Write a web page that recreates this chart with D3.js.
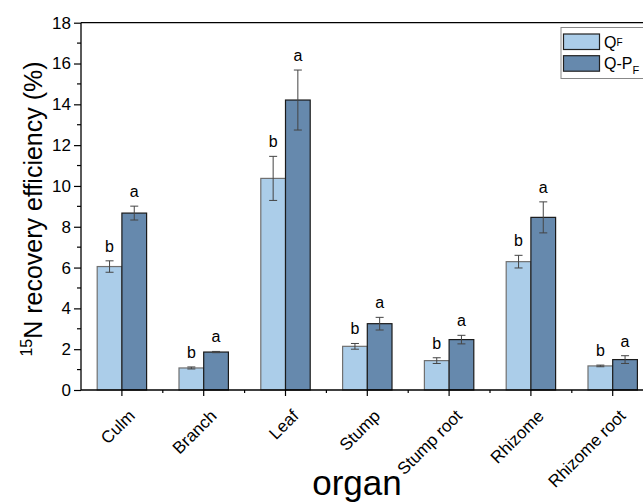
<!DOCTYPE html>
<html>
<head>
<meta charset="utf-8">
<script src="https://cdn.jsdelivr.net/npm/d3@7/dist/d3.min.js"></script>
<style>
  html, body { margin: 0; padding: 0; background: #fff; }
  svg { display: block; font-family: Arial, "Liberation Sans", sans-serif; }
</style>
</head>
<body>
<svg id="chart" width="643" height="502"></svg>
<script>
// Organs sampled
const categories = ["Culm", "Branch", "Leaf", "Stump", "Stump root", "Rhizome", "Rhizome root"];
// 15N recovery efficiency (%) per treatment, with error bars
const qfValues = [6.05, 1.08, 10.37, 2.14, 1.44, 6.29, 1.18];
const qfErrors = [0.28, 0.05, 1.08, 0.14, 0.14, 0.31, 0.04];
const qpfValues = [8.67, 1.86, 14.21, 3.25, 2.47, 8.46, 1.49];
const qpfErrors = [0.34, 0.03, 1.47, 0.31, 0.21, 0.76, 0.19];
// Significance letters
const qfLetters = ["b", "b", "b", "b", "b", "b", "b"];
const qpfLetters = ["a", "a", "a", "a", "a", "a", "a"];
const yTicks = [0, 2, 4, 6, 8, 10, 12, 14, 16, 18];
const seriesKeys = ["QF", "QPF"];

const series = [
  { key: "QF", values: qfValues, errors: qfErrors, letters: qfLetters, fill: "#abcde9", stroke: "#707070" },
  { key: "QPF", values: qpfValues, errors: qpfErrors, letters: qpfLetters, fill: "#6689ad", stroke: "#1a1a1a" }
];

const svg = d3.select("#chart");
const plotLeft = 81, plotTop = 22.7, plotBottom = 390, plotRight = 653.6;

const x = d3.scaleBand().domain(categories).range([plotLeft, plotRight]).paddingInner(0).paddingOuter(0);
const y = d3.scaleLinear().domain([0, 18]).range([plotBottom, plotTop]);
const barW = x.bandwidth() * 0.302;
const sub = d3.scaleBand().domain(seriesKeys).range([-barW, barW]);

// Bars, error bars and letters
series.forEach(s => {
  const g = svg.append("g");
  categories.forEach((c, i) => {
    const cx = x(c) + x.bandwidth() / 2;
    const bx = cx + sub(s.key);
    const v = s.values[i], e = s.errors[i];
    g.append("rect")
      .attr("x", bx).attr("y", y(v))
      .attr("width", sub.bandwidth()).attr("height", y(0) - y(v))
      .attr("fill", s.fill).attr("stroke", s.stroke).attr("stroke-width", 1.2);
    const mx = bx + sub.bandwidth() / 2;
    const eg = g.append("g").attr("stroke", "#444").attr("stroke-width", 1);
    eg.append("line").attr("x1", mx).attr("x2", mx).attr("y1", y(v + e)).attr("y2", y(v - e));
    eg.append("line").attr("x1", mx - 4).attr("x2", mx + 4).attr("y1", y(v + e)).attr("y2", y(v + e));
    eg.append("line").attr("x1", mx - 4).attr("x2", mx + 4).attr("y1", y(v - e)).attr("y2", y(v - e));
    g.append("text")
      .attr("x", mx).attr("y", y(v + e) - 9)
      .attr("text-anchor", "middle").attr("font-size", 16).attr("fill", "#000")
      .text(s.letters[i]);
  });
});

// Y axis with minor ticks
const yAxis = d3.axisLeft(y).tickValues(yTicks).tickSize(7).tickPadding(3).tickFormat(d3.format("d"));
const ya = svg.append("g").attr("transform", `translate(${plotLeft},0)`).call(yAxis);
ya.select(".domain").attr("stroke", "#000").attr("stroke-width", 1.3).attr("d", `M0,${plotBottom}V${plotTop}`);
ya.selectAll(".tick line").attr("stroke", "#000").attr("stroke-width", 1.2);
ya.selectAll(".tick text").attr("font-size", 17).attr("fill", "#000").attr("font-family", "Arial, 'Liberation Sans', sans-serif");
const yMinor = d3.range(1, 18, 2);
svg.append("g").selectAll("line").data(yMinor).join("line")
  .attr("x1", plotLeft - 4).attr("x2", plotLeft).attr("y1", d => y(d)).attr("y2", d => y(d))
  .attr("stroke", "#000").attr("stroke-width", 1.2);

// Top frame line
svg.append("line").attr("x1", plotLeft).attr("x2", 643).attr("y1", plotTop).attr("y2", plotTop)
  .attr("stroke", "#000").attr("stroke-width", 1.3);

// X axis
const xAxis = d3.axisBottom(x).tickSize(6).tickFormat("");
const xa = svg.append("g").attr("transform", `translate(0,${plotBottom})`).call(xAxis);
xa.select(".domain").attr("stroke", "#000").attr("stroke-width", 1.3).attr("d", `M${plotLeft},0H${plotRight}`);
xa.selectAll(".tick line").attr("stroke", "#000").attr("stroke-width", 1.2);
svg.append("g").selectAll("line").data(categories.slice(1)).join("line")
  .attr("x1", d => x(d)).attr("x2", d => x(d)).attr("y1", plotBottom).attr("y2", plotBottom + 3)
  .attr("stroke", "#000").attr("stroke-width", 1.2);

// Rotated category labels
svg.append("g").selectAll("text").data(categories).join("text")
  .attr("transform", d => `translate(${x(d) + x.bandwidth() / 2 + 14},${plotBottom + 27}) rotate(-45)`)
  .attr("text-anchor", "end").attr("font-size", 17).attr("fill", "#000")
  .text(d => d);

// Axis titles
svg.append("text").attr("x", 357).attr("y", 495).attr("text-anchor", "middle")
  .attr("font-size", 35).attr("fill", "#000").text("organ");

const yt = svg.append("text").attr("transform", `translate(42,209) rotate(-90)`)
  .attr("text-anchor", "middle").attr("font-size", 25).attr("fill", "#000");
yt.append("tspan").attr("font-size", 16).attr("dy", -10).text("15");
yt.append("tspan").attr("dy", 10).text("N recovery efficiency (%)");

// Legend
const lg = svg.append("g");
lg.append("rect").attr("x", 561).attr("y", 27.5).attr("width", 100).attr("height", 51)
  .attr("fill", "#fff").attr("stroke", "#888").attr("stroke-width", 1);
const legendRows = [
  { s: series[0], y: 34, label: t => { t.append("tspan").text("Q"); t.append("tspan").attr("font-size", 10).attr("dy", -2).text("F"); } },
  { s: series[1], y: 55.7, label: t => { t.append("tspan").text("Q-P"); t.append("tspan").attr("font-size", 11).attr("dy", 5).text("F"); } }
];
legendRows.forEach(r => {
  lg.append("rect").attr("x", 563.5).attr("y", r.y).attr("width", 36).attr("height", 15.5)
    .attr("fill", r.s.fill).attr("stroke", "#222").attr("stroke-width", 1.2);
  const t = lg.append("text").attr("x", 604).attr("y", r.y + 13.5).attr("font-size", 16).attr("fill", "#000");
  r.label(t);
});
</script>
</body>
</html>
